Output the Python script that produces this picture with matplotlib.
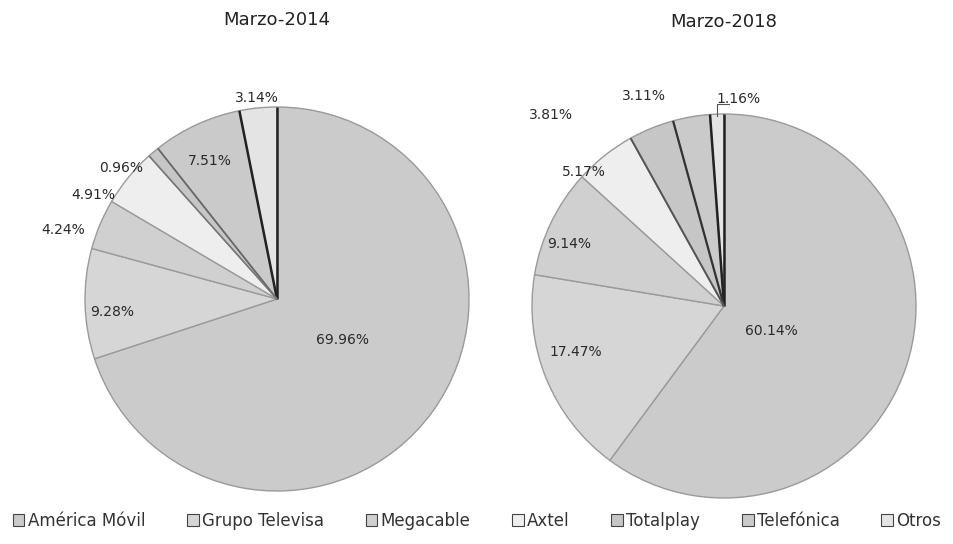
import matplotlib
matplotlib.use("Agg")
import matplotlib.pyplot as plt
import numpy as np
from matplotlib.patches import Patch

plt.rcParams['font.family'] = ['DejaVu Sans']

companies = ["América Móvil", "Grupo Televisa", "Megacable", "Axtel",
             "Totalplay", "Telefónica", "Otros"]
share_2014 = [69.96, 9.28, 4.24, 4.91, 0.96, 7.51, 3.14]
share_2018 = [60.14, 17.47, 9.14, 5.17, 3.81, 3.11, 1.16]
titles = ["Marzo-2014", "Marzo-2018"]

colors = ["#cbcbcb", "#d6d6d6", "#d0d0d0", "#eeeeee", "#c6c6c6", "#cacaca", "#e4e4e4"]

# darker radial separators: boundary index k = line after the first k wedges
# (k=7 / k=0 is the 12 o'clock line), with colour and width
dark_2014 = [(7, "#222222", 1.8), (6, "#222222", 1.8), (5, "#666666", 1.2), (4, "#777777", 1.1)]
dark_2018 = [(7, "#222222", 1.8), (6, "#222222", 1.8), (5, "#333333", 1.6), (4, "#555555", 1.4)]

# label placement (radius factor, angle nudge in degrees) per wedge
lab_2014 = [(0.40, 4), (0.86, 3), (1.17, 5), (1.10, 10), (1.06, 10), (0.80, 1), (1.05, 0)]
lab_2018 = [(0.28, -9), (0.81, -5), (0.87, 4), (1.01, 8), (1.34, 20), (1.17, 11), (1.08, -6)]

W, H = 954, 544
fig = plt.figure(figsize=(W / 100, H / 100), dpi=100)
fig.patch.set_facecolor("white")

R = 193.0
half = 240.0
centers = [(277, 245), (724, 238)]


def draw(center, values, labs, dark, title, title_y):
    cx, cy = center
    ax = fig.add_axes([(cx - half) / W, (cy - half) / H, 2 * half / W, 2 * half / H])
    ax.set_xlim(-half / R, half / R)
    ax.set_ylim(-half / R, half / R)
    ax.set_aspect("equal")
    ax.axis("off")
    wedges, _ = ax.pie(values, colors=colors, startangle=90, counterclock=False,
                       radius=1.0, wedgeprops=dict(linewidth=1.0, edgecolor="#9a9a9a"))
    cum = np.concatenate([[0], np.cumsum(values)]) / np.sum(values)
    for k, col, lw in dark:
        ang = np.deg2rad(90 - 360 * cum[k])
        ax.plot([0, np.cos(ang)], [0, np.sin(ang)], color=col, lw=lw, zorder=4,
                solid_capstyle="butt")
    for w, v, (rf, da) in zip(wedges, values, labs):
        mid = np.deg2rad((w.theta1 + w.theta2) / 2 + da)
        ax.text(rf * np.cos(mid), rf * np.sin(mid), f"{v:.2f}%", ha="center", va="center",
                fontsize=10, color="#2a2a2a", clip_on=False, zorder=5)
    fig.text(cx / W, 1 - title_y / H, title, ha="center", va="center", fontsize=13, color="#222222")
    return ax, wedges


ax1, w1 = draw(centers[0], share_2014, lab_2014, dark_2014, titles[0], 20)
ax2, w2 = draw(centers[1], share_2018, lab_2018, dark_2018, titles[1], 22)

# leader line for the small "Otros" 2018 label
wo = w2[-1]
mid = np.deg2rad((wo.theta1 + wo.theta2) / 2)
x0, y0 = np.cos(mid) * 0.99, np.sin(mid) * 0.99
ax2.plot([x0, x0, x0 + 0.06], [y0, y0 + 0.065, y0 + 0.065], color="#555555", lw=0.8,
         clip_on=False, zorder=5)

handles = [Patch(facecolor=c, edgecolor="#444444", linewidth=0.8) for c in colors]
fig.legend(handles, companies, loc="center", bbox_to_anchor=(0.5, 1 - 521 / H), ncol=7,
           frameon=False, fontsize=12, handlelength=0.7, handleheight=0.7,
           handletextpad=0.2, columnspacing=2.5, labelcolor="#333333")

fig.savefig("out.png", dpi=100, facecolor="white")
